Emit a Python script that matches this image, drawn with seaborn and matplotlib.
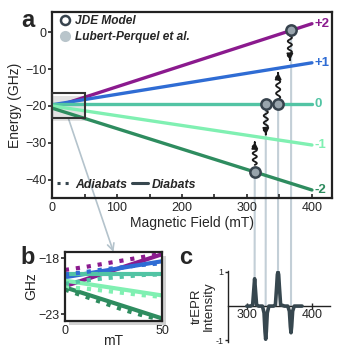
import numpy as np
import pandas as pd
import matplotlib
matplotlib.use('Agg')
import matplotlib.pyplot as plt
import matplotlib.patheffects as pe
from matplotlib.patches import Rectangle, ConnectionPatch
from matplotlib.lines import Line2D
import seaborn as sns

# ---- data ----
states = ['+2', '+1', '0', '-1', '-2']
colors = ['#8b1a8e', '#2f6cd4', '#52c4a4', '#80f0b2', '#2e8c5f']

diabat_field = [0, 400]
diabat_energy = {
    '+2': [-20.5, 2.3],
    '+1': [-19.7, -8.3],
    '0': [-19.4, -19.4],
    '-1': [-20.0, -30.6],
    '-2': [-20.6, -42.8],
}

adiabat_field = [0, 10, 20, 30, 40, 50]
adiabat_energy = {
    '+2': [-19.05, -18.8, -18.5, -18.2, -17.9, -17.6],
    '+1': [-19.45, -19.25, -19.0, -18.8, -18.6, -18.45],
    '0': [-20.3, -20.0, -19.8, -19.65, -19.5, -19.45],
    '-1': [-20.6, -20.7, -20.9, -21.1, -21.3, -21.45],
    '-2': [-20.8, -21.4, -22.0, -22.6, -23.1, -23.5],
}

# resonance points (JDE model / Lubert-Perquel)
res_field = [312, 329, 348, 368]
res_energy = [-37.9, -19.4, -19.4, 0.5]
res_peak = [0.8, -0.97, 1.0, -0.78]

# wavy transitions
arrow_field = [312, 329, 348, 366]
arrow_from = [-36.0, -21.2, -18.2, -1.0]
arrow_to = [-29.0, -28.6, -10.2, -8.4]

# trEPR spectrum
c_field = [300, 306, 309, 311, 312, 313, 315, 318, 324, 326.5, 328, 329, 330, 331.5,
           334, 341, 344, 346, 347, 348, 349, 350, 352, 358, 363, 365.5, 367, 368,
           369, 370.5, 373, 385]
c_intensity = [0, 0, 0.04, 0.55, 0.8, 0.55, 0.04, 0, 0, -0.2, -0.75, -0.97, -0.75, -0.2,
               0, 0, 0.04, 0.6, 0.92, 1.0, 0.92, 0.6, 0.04, 0, 0, -0.15, -0.6, -0.78,
               -0.6, -0.15, 0, 0]

dark = '#37474f'
guide = '#c3cfd7'

sns.set_theme(style='ticks')
plt.rcParams['font.family'] = ['Liberation Sans', 'DejaVu Sans']
plt.rcParams['axes.edgecolor'] = '#222222'

fig = plt.figure(figsize=(3.47, 3.50), dpi=100)
fig.patch.set_facecolor('white')

ax = fig.add_axes([0.150, 0.434, 0.807, 0.532])
ax_b = fig.add_axes([0.187, 0.083, 0.280, 0.197])
ax_c = fig.add_axes([0.657, 0.023, 0.294, 0.203])
for a in (ax, ax_c):
    a.patch.set_alpha(0)

# ---- panel a ----
dia = pd.DataFrame([(s, f, e) for s in states
                    for f, e in zip(diabat_field, diabat_energy[s])],
                   columns=['state', 'field', 'energy'])
sns.lineplot(data=dia, x='field', y='energy', hue='state', hue_order=states,
             palette=colors, lw=2.4, legend=False, ax=ax, zorder=3)

for s, c in zip(states, colors):
    ax.text(404, diabat_energy[s][1], s, color=c, fontsize=9.5, fontweight='bold',
            va='center', ha='left')

# zoom box with shadow
ax.add_patch(Rectangle((1.5, -24.0), 50, 6.8, facecolor='k', alpha=0.12,
                       edgecolor='none', zorder=1))
ax.add_patch(Rectangle((0, -23.3), 50, 6.8, facecolor='none', edgecolor='#333333',
                       lw=1.5, zorder=4, clip_on=False))

# wavy arrows
for x, y0, y1 in zip(arrow_field, arrow_from, arrow_to):
    d = np.sign(y1 - y0)
    t = np.linspace(0, 1, 120)
    yw = y0 + (y1 - 1.6 * d - y0) * t
    xw = x + 3.2 * np.sin(2 * np.pi * 3 * t)
    ax.plot(xw, yw, color='k', lw=1.3, zorder=5)
    ax.annotate('', xy=(x, y1), xytext=(x, y1 - 1.7 * d),
                arrowprops=dict(arrowstyle='-|>', color='k', lw=1.3,
                                mutation_scale=9), zorder=5)

pts = pd.DataFrame({'field': res_field, 'energy': res_energy})
sns.scatterplot(data=pts, x='field', y='energy', s=55, color='#98a4ac',
                edgecolor='#37434d', linewidth=1.8, ax=ax, zorder=6)

ax.set_xlim(0, 431)
ax.set_ylim(-45, 5.5)
ax.set_xticks([0, 100, 200, 300, 400])
ax.set_xticks([50, 150, 250, 350], minor=True)
ax.set_yticks([0, -10, -20, -30, -40])
ax.tick_params(axis='x', direction='in', length=3, width=1.2, labelsize=9, pad=3)
ax.tick_params(axis='x', which='minor', direction='in', length=3, width=1.2)
ax.tick_params(axis='y', direction='out', length=3, width=1.2, labelsize=9, pad=1)
ax.set_xlabel('Magnetic Field (mT)', fontsize=10, labelpad=1)
ax.set_ylabel('Energy (GHz)', fontsize=10, labelpad=2)
for sp in ax.spines.values():
    sp.set_linewidth(1.6)
    sp.set_visible(True)

leg1 = ax.legend(handles=[
    Line2D([], [], ls='', marker='o', ms=6.5, mfc='white', mec='#37434d', mew=1.8,
           label='JDE Model'),
    Line2D([], [], ls='', marker='o', ms=8, mfc='#b9c5cb', mec='none',
           label='Lubert-Perquel et al.')],
    loc='upper left', bbox_to_anchor=(0.0, 1.02), frameon=False, handletextpad=0.3,
    borderaxespad=0.2, labelspacing=0.3, handlelength=1.0,
    prop=dict(size=8.6, weight='bold', style='italic'))
ax.add_artist(leg1)
ax.legend(handles=[
    Line2D([], [], ls=':', lw=2.2, color=dark, label='Adiabats'),
    Line2D([], [], ls='-', lw=2.2, color=dark, label='Diabats')],
    loc='lower left', bbox_to_anchor=(-0.01, 0.0), frameon=False, ncol=2,
    handlelength=1.3, handletextpad=0.25, columnspacing=0.4, borderaxespad=0.2,
    prop=dict(size=8.8, weight='bold', style='italic'))

# ---- panel b ----
ad = pd.DataFrame([(s, f, e) for s in states
                   for f, e in zip(adiabat_field, adiabat_energy[s])],
                  columns=['state', 'field', 'energy'])
sns.lineplot(data=dia, x='field', y='energy', hue='state', hue_order=states,
             palette=colors, lw=3, legend=False, ax=ax_b)
sns.lineplot(data=ad, x='field', y='energy', hue='state', hue_order=states,
             palette=colors, lw=3, ls=':', legend=False, ax=ax_b)
ax_b.set_xlim(0, 50)
ax_b.set_ylim(-23.6, -17.45)
ax_b.set_xticks([0, 50])
ax_b.set_yticks([-18, -23])
ax_b.tick_params(axis='x', length=0, labelsize=9, pad=3)
ax_b.tick_params(axis='y', direction='out', length=3, width=1.2, labelsize=9, pad=1)
ax_b.set_xlabel('mT', fontsize=10, labelpad=-2)
ax_b.set_ylabel('GHz', fontsize=10, labelpad=0)
for sp in ax_b.spines.values():
    sp.set_linewidth(1.6)
    sp.set_visible(True)
ax_b.patch.set_path_effects([pe.SimplePatchShadow(offset=(3, -3), alpha=0.25),
                             pe.Normal()])

# ---- panel c ----
sns.lineplot(x=c_field, y=c_intensity, color=dark, lw=2.6, ax=ax_c, zorder=3)
ax_c.set_xlim(271, 428)
ax_c.set_ylim(-1.05, 1.03)
ax_c.spines['top'].set_visible(False)
ax_c.spines['right'].set_visible(False)
ax_c.spines['bottom'].set_position(('data', 0))
ax_c.spines['bottom'].set_linewidth(1.0)
ax_c.spines['left'].set_linewidth(1.0)
ax_c.set_xticks([300, 400])
ax_c.set_yticks([1, -1])
ax_c.set_yticklabels(['1', '-1'])
ax_c.tick_params(axis='x', direction='inout', length=4, width=1, labelsize=9, pad=0)
ax_c.tick_params(axis='y', direction='out', length=2, width=1, labelsize=6.5, pad=1)
ax_c.set_ylabel('trEPR\nIntensity', fontsize=9.5, labelpad=1, linespacing=0.95)

# guide lines from resonances down to spectrum
for x, e, p in zip(res_field, res_energy, res_peak):
    con = ConnectionPatch(xyA=(x, e), coordsA='data', axesA=ax,
                          xyB=(x, p if p > 0 else 0), coordsB='data', axesB=ax_c,
                          color=guide, lw=1.5, zorder=-1)
    fig.add_artist(con)

# arrow from zoom box to inset
con = ConnectionPatch(xyA=(25, -23.3), coordsA='data', axesA=ax,
                      xyB=(25, -17.45), coordsB='data', axesB=ax_b,
                      arrowstyle='->', mutation_scale=12, color='#b4c3cc', lw=1.2,
                      zorder=-1)
fig.add_artist(con)

# panel letters
fig.text(0.062, 0.924, 'a', fontsize=17, fontweight='bold')
fig.text(0.060, 0.245, 'b', fontsize=17, fontweight='bold')
fig.text(0.515, 0.245, 'c', fontsize=17, fontweight='bold')

fig.savefig('out.png', dpi=100, facecolor='white')
